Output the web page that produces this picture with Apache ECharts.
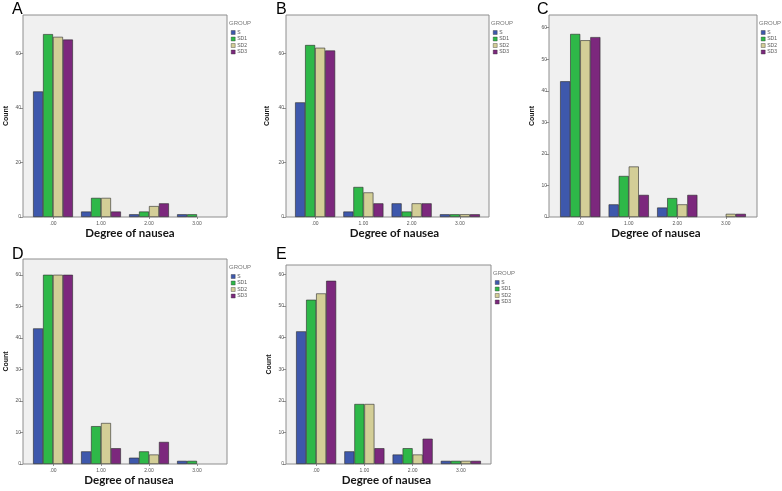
<!DOCTYPE html>
<html><head><meta charset="utf-8">
<script src="https://cdn.jsdelivr.net/npm/echarts@6/dist/echarts.min.js"></script>
<style>html,body{margin:0;padding:0;background:#fff}#c{width:782px;height:491px}</style>
</head><body><div id="c"></div>
<script>
// ---------- data ----------
const categories = ['.00', '1.00', '2.00', '3.00'];
const groups = ['S', 'SD1', 'SD2', 'SD3'];
const panelLetters = ['A', 'B', 'C', 'D', 'E'];

// panel A (rows = S, SD1, SD2, SD3; columns = categories)
const panelA_S   = [46, 2, 1, 1];
const panelA_SD1 = [67, 7, 2, 1];
const panelA_SD2 = [66, 7, 4, 0];
const panelA_SD3 = [65, 2, 5, 0];
// panel B
const panelB_S   = [42, 2, 5, 1];
const panelB_SD1 = [63, 11, 2, 1];
const panelB_SD2 = [62, 9, 5, 1];
const panelB_SD3 = [61, 5, 5, 1];
// panel C
const panelC_S   = [43, 4, 3, 0];
const panelC_SD1 = [58, 13, 6, 0];
const panelC_SD2 = [56, 16, 4, 1];
const panelC_SD3 = [57, 7, 7, 1];
// panel D
const panelD_S   = [43, 4, 2, 1];
const panelD_SD1 = [60, 12, 4, 1];
const panelD_SD2 = [60, 13, 3, 0];
const panelD_SD3 = [60, 5, 7, 0];
// panel E
const panelE_S   = [42, 4, 3, 1];
const panelE_SD1 = [52, 19, 5, 1];
const panelE_SD2 = [54, 19, 3, 1];
const panelE_SD3 = [58, 5, 8, 1];

// y axis ranges & tick labels
const yMaxes = [74, 74, 64, 65, 63];
const yTicks20 = [0, 20, 40, 60];
const yTicks10 = [0, 10, 20, 30, 40, 50, 60];
const panelYTicks = [yTicks20, yTicks20, yTicks10, yTicks10, yTicks10];

const xAxisTitle = 'Degree of nausea';
const yAxisTitle = 'Count';
const legendTitle = 'GROUP';

const panelValues = [
  [panelA_S, panelA_SD1, panelA_SD2, panelA_SD3],
  [panelB_S, panelB_SD1, panelB_SD2, panelB_SD3],
  [panelC_S, panelC_SD1, panelC_SD2, panelC_SD3],
  [panelD_S, panelD_SD1, panelD_SD2, panelD_SD3],
  [panelE_S, panelE_SD1, panelE_SD2, panelE_SD3]
];

// ---------- layout / style ----------
const colors = ['#3E58AC', '#2EB848', '#D3CE97', '#7C287D'];
const layout = [
  { box: [23, 15, 204, 202],  inset: 6, nameGap: 13, xShift: 5, letter: [12, 2] },
  { box: [286, 15, 203, 202], inset: 5, nameGap: 15, xShift: 7, letter: [276, 2] },
  { box: [549, 15, 208, 202], inset: 7, nameGap: 13, xShift: 3, letter: [537, 2] },
  { box: [23, 259, 204, 205], inset: 6, nameGap: 13, xShift: 4, letter: [12, 247] },
  { box: [286, 265, 205, 199], inset: 6, nameGap: 13, xShift: -2, letter: [276, 247] }
];

const grids = [], xAxes = [], yAxes = [], series = [], legends = [], titles = [];

layout.forEach((L, i) => {
  const [bx, by, bw, bh] = L.box;
  // frame grid (background + border)
  grids.push({ left: bx, top: by, width: bw, height: bh, show: true,
    backgroundColor: '#F0F0F0', borderColor: '#8E8E8E', borderWidth: 1 });
  // data grid
  grids.push({ left: bx + L.inset, top: by, width: bw - 2 * L.inset, height: bh, show: false });
  const gi = 2 * i + 1;
  xAxes.push({
    type: 'category', gridIndex: gi, data: categories,
    axisLine: { show: false },
    axisTick: { show: true, alignWithLabel: true, length: 2, lineStyle: { color: '#777', width: 0.8 } },
    axisLabel: { fontSize: 5, color: '#555', margin: 4, fontFamily: 'Liberation Sans' },
    name: xAxisTitle, nameLocation: 'middle', nameGap: 10,
    nameTextStyle: { fontFamily: 'Lato', fontWeight: 'bold', fontSize: 11.5, color: '#151515',
      padding: L.xShift >= 0 ? [0, 0, 0, 2 * L.xShift] : [0, -2 * L.xShift, 0, 0] }
  });
  yAxes.push({
    type: 'value', gridIndex: gi, min: 0, max: yMaxes[i], offset: L.inset,
    axisLine: { show: false },
    splitLine: { show: false },
    axisTick: { show: true, length: 3, customValues: panelYTicks[i], lineStyle: { color: '#777', width: 0.8 } },
    axisLabel: { fontSize: 5, color: '#555', margin: 2, customValues: panelYTicks[i], fontFamily: 'Liberation Sans' },
    name: yAxisTitle, nameLocation: 'middle', nameGap: L.nameGap,
    nameTextStyle: { fontFamily: 'Liberation Sans', fontWeight: 'bold', fontSize: 7, color: '#151515' }
  });
  groups.forEach((g, k) => {
    series.push({
      type: 'bar', name: g, xAxisIndex: i, yAxisIndex: i,
      // zero-height bars are not outlined in the reference
      data: panelValues[i][k].map(v => v === 0 ? { value: v, itemStyle: { borderWidth: 0 } } : v),
      barGap: '0%', barCategoryGap: '17%',
      itemStyle: { color: colors[k], borderColor: '#2a2a2a', borderWidth: 0.6 },
      emphasis: { disabled: true }, animation: false
    });
  });
  legends.push({
    data: groups, orient: 'vertical', left: bx + bw + 4, top: by + 15,
    itemWidth: 4, itemHeight: 4, itemGap: 1.5, icon: 'rect', padding: 0,
    itemStyle: { borderWidth: 0.4, borderColor: '#333' },
    textStyle: { fontSize: 5, color: '#555', fontFamily: 'Liberation Sans', padding: [0, 0, 0, -3] },
    selectedMode: false
  });
  titles.push({ text: legendTitle, left: bx + bw + 2, top: by + 5, padding: 0,
    textStyle: { fontSize: 6, fontWeight: 'normal', color: '#777', fontFamily: 'Liberation Sans' } });
  titles.push({ text: panelLetters[i], left: L.letter[0], top: L.letter[1], padding: 0,
    textStyle: { fontSize: 16, fontWeight: 'normal', color: '#000', fontFamily: 'Liberation Sans' } });
});

const chart = echarts.init(document.getElementById('c'), null, { renderer: 'canvas' });
chart.setOption({
  animation: false,
  backgroundColor: '#ffffff',
  color: colors,
  title: titles,
  legend: legends,
  grid: grids,
  xAxis: xAxes,
  yAxis: yAxes,
  series: series
});
</script>
</body></html>
